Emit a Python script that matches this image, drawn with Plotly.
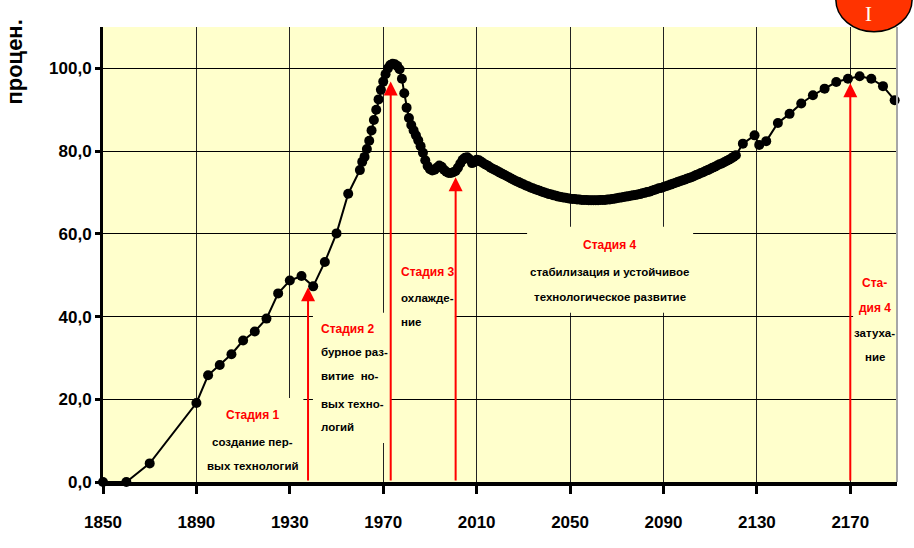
import plotly.graph_objects as go

# --- data -------------------------------------------------------------
# sparse early observations (every few years)
years_early = [1850, 1860, 1870, 1890, 1895, 1900, 1905, 1910, 1915, 1920,
               1925, 1930, 1935, 1940, 1945, 1950, 1955]
values_early = [0.0, 0.0, 4.5, 19.1, 25.8, 28.3, 30.9, 34.2, 36.4, 39.5,
                45.6, 48.7, 49.8, 47.3, 53.2, 60.1, 69.7]

# yearly observations 1960-2121
years_dense = list(range(1960, 2122))
values_dense = [
    75.4, 77.4, 78.6, 80.5, 82.5, 85.0, 87.5, 90.0, 92.5, 94.8,     # 1960s
    96.8, 98.6, 100.0, 100.8, 101.1, 101.0, 100.6, 99.8, 97.5, 94.0,  # 1970s
    90.5, 88.0, 86.3, 85.0, 83.8, 82.6, 81.2, 79.6, 77.8, 76.4,     # 1980s
    75.6, 75.3, 75.5, 76.0, 76.5, 76.2, 75.5, 75.0, 74.7, 74.7,     # 1990s
    74.9, 75.2, 76.0, 77.0, 77.9, 78.4, 78.5, 78.0, 77.1, 77.3,     # 2000s
    77.9, 77.8, 77.4, 77.0, 76.7, 76.4, 76.0, 75.7, 75.4, 75.1,     # 2010s
    74.8, 74.5, 74.2, 73.9, 73.6, 73.3, 73.0, 72.7, 72.5, 72.2,     # 2020s
    72.0, 71.7, 71.5, 71.2, 71.0, 70.8, 70.6, 70.4, 70.2, 70.0,     # 2030s
    69.8, 69.6, 69.5, 69.3, 69.2, 69.0, 68.9, 68.8, 68.7, 68.6,     # 2040s
    68.5, 68.4, 68.4, 68.3, 68.3, 68.2, 68.2, 68.2, 68.1, 68.1,     # 2050s
    68.1, 68.1, 68.1, 68.2, 68.2, 68.2, 68.3, 68.3, 68.4, 68.5,     # 2060s
    68.6, 68.7, 68.8, 68.9, 69.0, 69.1, 69.2, 69.3, 69.4, 69.5,     # 2070s
    69.6, 69.8, 69.9, 70.1, 70.2, 70.4, 70.6, 70.8, 71.0, 71.1,     # 2080s
    71.3, 71.5, 71.7, 71.9, 72.1, 72.3, 72.5, 72.7, 72.9, 73.1,     # 2090s
    73.3, 73.5, 73.7, 73.9, 74.2, 74.4, 74.7, 74.9, 75.2, 75.4,     # 2100s
    75.7, 76.0, 76.2, 76.5, 76.8, 77.0, 77.3, 77.6, 77.9, 78.2,     # 2110s
    78.6, 79.0,                                                     # 2120-2121
]

# sparse late observations
years_late = [2124, 2129, 2131, 2134, 2139, 2144, 2149, 2154, 2159, 2164,
              2169, 2174, 2179, 2184, 2189]
values_late = [81.8, 83.8, 81.5, 82.4, 86.8, 89.0, 91.5, 93.5, 95.1, 96.7,
               97.5, 98.1, 97.5, 95.7, 92.3]

x_ticks = [1850, 1890, 1930, 1970, 2010, 2050, 2090, 2130, 2170]
x_tick_labels = ["1850", "1890", "1930", "1970", "2010", "2050", "2090", "2130", "2170"]
y_ticks = [0, 20, 40, 60, 80, 100]
y_tick_labels = ["0,0", "20,0", "40,0", "60,0", "80,0", "100,0"]

# stage arrows: (year, level the arrow points to)
arrow_years = [1937.8, 1973.2, 2001.0, 2170.0]
arrow_levels = [47.1, 96.8, 73.7, 96.4]

# --- styling -----------------------------------------------------------
SANS = "Liberation Sans, Arial, sans-serif"
PLOT_BG = "#FFFFCC"
RED = "#FF0000"

years = years_early + years_dense + years_late
values = values_early + values_dense + values_late

fig = go.Figure()
fig.add_trace(go.Scatter(
    x=years, y=values, mode="lines+markers",
    line=dict(color="black", width=2),
    marker=dict(color="black", size=10),
    cliponaxis=False, hoverinfo="skip", showlegend=False,
))

# text boxes that hide the grid underneath the stage captions
boxes = [
    (1891.5, 1935.8, 0.0, 20.3),     # stage 1
    (1939.9, 1972.9, 9.4, 40.9),     # stage 2
    (1973.3, 2000.7, 33.1, 57.3),    # stage 3
    (2031.6, 2102.7, 40.9, 61.7),    # stage 4
    (2171.2, 2189.6, 23.5, 53.2),    # stage 4, fading
]
shapes = []
for x0, x1, y0, y1 in boxes:
    shapes.append(dict(type="rect", xref="x", yref="y", x0=x0, x1=x1, y0=y0, y1=y1,
                       fillcolor=PLOT_BG, line=dict(width=0), layer="between"))

# right plot border
shapes.append(dict(type="line", xref="paper", yref="paper", x0=1, x1=1, y0=0, y1=1,
                   line=dict(color="#A6A6A6", width=2), layer="above"))
# numbered badge in the top-right corner
shapes.append(dict(type="circle", xref="paper", yref="paper",
                   x0=0.923, x1=1.019, y0=0.9897, y1=1.1297,
                   fillcolor="#FF3300", line=dict(color="black", width=1.5), layer="above"))

annotations = []


def caption(x, y, text, color="black", anchor="center", size=11.5):
    annotations.append(dict(
        x=x, y=y, xref="x", yref="y", text=text, showarrow=False,
        xanchor=anchor, yanchor="middle", align="center",
        font=dict(family=SANS, size=size, color=color, weight="bold"),
    ))


# stage 1
caption(1914.2, 16.2, "Стадия 1", RED, size=12)
caption(1914.2, 9.7, "создание пер-")
caption(1914.2, 3.9, "вых технологий")
# stage 2
caption(1942.3, 37.0, "Стадия 2", RED, anchor="left", size=12)
caption(1942.3, 31.4, "бурное раз-", anchor="left")
caption(1942.3, 25.6, "витие\u00a0 но-", anchor="left")
caption(1942.3, 18.9, "вых техно-", anchor="left")
caption(1942.3, 13.3, "логий", anchor="left")
# stage 3
caption(1976.6, 50.8, "Стадия 3", RED, anchor="left", size=12)
caption(1976.6, 44.5, "охлажде-", anchor="left")
caption(1976.6, 38.7, "ние", anchor="left")
# stage 4
caption(2067.1, 57.3, "Стадия 4", RED, size=12)
caption(2067.1, 50.8, "стабилизация и устойчивое")
caption(2067.1, 44.7, "технологическое развитие")
# stage 4, fading
caption(2180.4, 48.1, "Ста-", RED, size=12)
caption(2180.4, 42.1, "дия 4", RED, size=12)
caption(2180.4, 36.0, "затуха-")
caption(2180.4, 30.2, "ние")

# red arrows rising from the time axis
for ax_year, level in zip(arrow_years, arrow_levels):
    annotations.append(dict(
        x=ax_year, y=level, xref="x", yref="y",
        ax=ax_year, ay=0, axref="x", ayref="y",
        text="", showarrow=True, arrowhead=2, arrowsize=1.4, arrowwidth=2,
        arrowcolor=RED, standoff=0, startstandoff=0,
    ))

# axis title, rotated
annotations.append(dict(
    x=-0.112, y=0.922, xref="paper", yref="paper", text="процен.",
    textangle=-90, showarrow=False, xanchor="center", yanchor="middle",
    font=dict(family=SANS, size=22, color="black", weight="bold"),
))
# badge numeral
annotations.append(dict(
    x=0.9647, y=1.0593, xref="paper", yref="paper", text="I", showarrow=False,
    xanchor="center", yanchor="top",
    font=dict(family="Liberation Serif, Times New Roman, serif", size=21, color="#FFFFF0"),
))

fig.update_layout(
    width=914, height=548, autosize=False,
    margin=dict(l=103, r=17, t=27, b=66, pad=0),
    paper_bgcolor="white", plot_bgcolor=PLOT_BG,
    shapes=shapes, annotations=annotations,
    showlegend=False,
)
fig.update_xaxes(
    range=[1850, 2190], tickvals=x_ticks, ticktext=x_tick_labels,
    showgrid=True, gridcolor="#222222", gridwidth=1,
    showline=True, linecolor="black", linewidth=4,
    ticks="outside", ticklen=8, tickwidth=3, tickcolor="black",
    ticklabelstandoff=14, zeroline=False,
    tickfont=dict(family=SANS, size=17, color="black", weight="bold"),
)
fig.update_yaxes(
    range=[0, 110], tickvals=y_ticks, ticktext=y_tick_labels,
    showgrid=True, gridcolor="black", gridwidth=1,
    showline=True, linecolor="black", linewidth=3,
    ticks="outside", ticklen=5, tickwidth=3, tickcolor="black",
    zeroline=False,
    tickfont=dict(family=SANS, size=17, color="black", weight="bold"),
)

fig.write_html("out.html")
